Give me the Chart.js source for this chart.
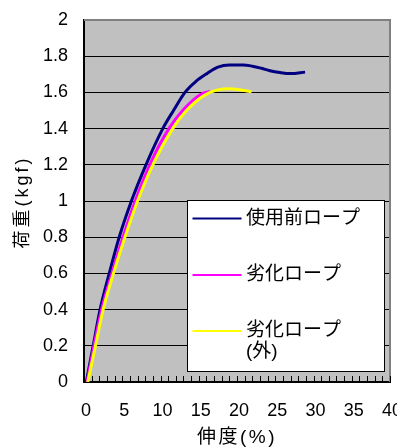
<!DOCTYPE html>
<html><head><meta charset="utf-8">
<script src="https://cdn.jsdelivr.net/npm/chart.js@4/dist/chart.umd.min.js"></script>
<style>html,body{margin:0;padding:0;background:#fff}</style>
</head><body>
<canvas id="c" width="397" height="448" style="width:397px;height:448px;display:block"></canvas>
<script>
// ---- data ----
const seriesNames = ['使用前ロープ', '劣化ロープ', '劣化ロープ\n(外)'];
const seriesColors = ['#000080', '#FF00FF', '#FFFF00'];

const newRopeX = [0.3, 1.2, 2.1, 3.3, 4.6, 6.2, 8.1, 10.3, 11.7, 13.2, 14.6, 16.1, 17.5, 19.0, 20.8, 22.0, 23.2, 24.3, 25.6, 27.0, 28.9];
const newRopeY = [0, 0.2, 0.4, 0.6, 0.8, 1.0, 1.2, 1.4, 1.5, 1.6, 1.66, 1.705, 1.74, 1.752, 1.752, 1.745, 1.733, 1.72, 1.71, 1.704, 1.712];

const oldRopeX = [0.4, 1.3, 2.3, 3.65, 5.1, 6.7, 8.6, 11.1, 12.9, 15.5, 16.5];
const oldRopeY = [0, 0.2, 0.4, 0.6, 0.8, 1.0, 1.2, 1.4, 1.5, 1.595, 1.605];

const oldOuterX = [0.5, 1.5, 2.5, 3.85, 5.35, 7.0, 9.0, 11.6, 13.4, 16.2, 19.0, 21.9];
const oldOuterY = [0, 0.2, 0.4, 0.6, 0.8, 1.0, 1.2, 1.4, 1.5, 1.595, 1.62, 1.604];

const xTitle = '伸度(%)';
const yTitle = '荷重(kgf)';
const xMin = 0, xMax = 40, xLabelStep = 5;
const yMin = 0, yMax = 2, yStep = 0.2;

const FONT = '"Liberation Sans", Arial, "Noto Sans CJK JP", sans-serif';

function pts(xs, ys) { return xs.map((x, i) => ({x: x, y: ys[i]})); }

const plotDeco = {
  id: 'plotDeco',
  beforeDraw(chart) {
    const {ctx, chartArea: a} = chart;
    ctx.save();
    ctx.fillStyle = '#C0C0C0';
    ctx.fillRect(a.left, a.top, a.right - a.left, a.bottom - a.top);
    ctx.restore();
  },
  afterDraw(chart) {
    const {ctx, chartArea: a} = chart;
    const xs = chart.scales.x;
    ctx.save();
    // gray top / right frame
    ctx.strokeStyle = '#808080';
    ctx.lineWidth = 2;
    ctx.beginPath();
    ctx.moveTo(a.left, a.top);
    ctx.lineTo(a.right, a.top);
    ctx.lineTo(a.right, a.bottom);
    ctx.stroke();
    // inside tick marks on x axis (every unit)
    ctx.strokeStyle = '#000';
    ctx.lineWidth = 1;
    ctx.beginPath();
    xs.ticks.forEach(t => {
      const px = Math.round(xs.getPixelForValue(t.value)) + 0.5;
      ctx.moveTo(px, a.bottom);
      ctx.lineTo(px, a.bottom - 6);
    });
    ctx.stroke();

    // axis titles
    ctx.fillStyle = '#000';
    ctx.textAlign = 'center';
    ctx.textBaseline = 'middle';
    ctx.font = '19px ' + FONT;
    ctx.letterSpacing = '2.5px';
    ctx.fillText(xTitle, (a.left + a.right) / 2, 437.5);
    ctx.save();
    ctx.translate(23, (a.top + a.bottom) / 2 + 1);
    ctx.rotate(-Math.PI / 2);
    ctx.font = '18px ' + FONT;
    ctx.letterSpacing = '3px';
    ctx.fillText(yTitle, 0, 0);
    ctx.restore();
    ctx.letterSpacing = '0px';

    // legend box
    const L = 187.5, T = 200.5, R = 384.5, B = 371.5;
    ctx.fillStyle = '#fff';
    ctx.fillRect(L, T, R - L, B - T);
    ctx.strokeStyle = '#000';
    ctx.lineWidth = 1;
    ctx.strokeRect(L, T, R - L, B - T);
    const rows = [218.5, 275, 331];
    ctx.font = '19px ' + FONT;
    ctx.textBaseline = 'middle';
    ctx.textAlign = 'left';
    chart.data.datasets.forEach((ds, i) => {
      const y = rows[i];
      ctx.strokeStyle = ds.borderColor;
      ctx.lineWidth = 2;
      ctx.beginPath();
      ctx.moveTo(192.5, y);
      ctx.lineTo(241.5, y);
      ctx.stroke();
      ctx.fillStyle = '#000';
      const lines = ds.label.split('\n');
      lines.forEach((ln, j) => ctx.fillText(ln, 246, y + j * 21));
    });
    ctx.restore();
  }
};

new Chart(document.getElementById('c'), {
  type: 'scatter',
  data: {
    datasets: [
      {label: seriesNames[0], data: pts(newRopeX, newRopeY), borderColor: seriesColors[0], order: 2},
      {label: seriesNames[1], data: pts(oldRopeX, oldRopeY), borderColor: seriesColors[1], order: 1},
      {label: seriesNames[2], data: pts(oldOuterX, oldOuterY), borderColor: seriesColors[2], order: 0}
    ].map(d => Object.assign(d, {
      showLine: true, pointRadius: 0, borderWidth: 3, fill: false,
      cubicInterpolationMode: 'monotone', backgroundColor: d.borderColor
    }))
  },
  options: {
    responsive: false,
    animation: false,
    devicePixelRatio: 1,
    layout: {padding: {left: 0, right: 7, top: 20, bottom: 0}},
    plugins: {legend: {display: false}, tooltip: {enabled: false}},
    scales: {
      x: {
        type: 'linear', min: xMin, max: xMax,
        afterFit(s) { s.height = 66; s.paddingLeft = 0; s.paddingRight = 0; },
        ticks: {
          stepSize: 1, autoSkip: false, maxRotation: 0, padding: 18, labelOffset: 2,
          color: '#000', font: {family: FONT, size: 18},
          callback: v => (v % xLabelStep === 0 ? String(v) : '')
        },
        grid: {display: true, drawOnChartArea: false, drawTicks: false},
        border: {display: true, color: '#000', width: 2},
        title: {display: false, text: xTitle}
      },
      y: {
        type: 'linear', min: yMin, max: yMax,
        afterFit(s) { s.width = 84; s.paddingTop = 0; s.paddingBottom = 0; },
        ticks: {
          stepSize: yStep, padding: 16, color: '#000', font: {family: FONT, size: 18},
          callback: v => String(parseFloat(Number(v).toFixed(1)))
        },
        grid: {
          drawTicks: false,
          color: c => (Math.abs(c.tick.value - yMax) < 1e-9 ? 'rgba(0,0,0,0)' : '#000'),
          lineWidth: 1
        },
        border: {display: true, color: '#000', width: 2},
        title: {display: false, text: yTitle}
      }
    }
  },
  plugins: [plotDeco]
});
</script>
</body></html>
